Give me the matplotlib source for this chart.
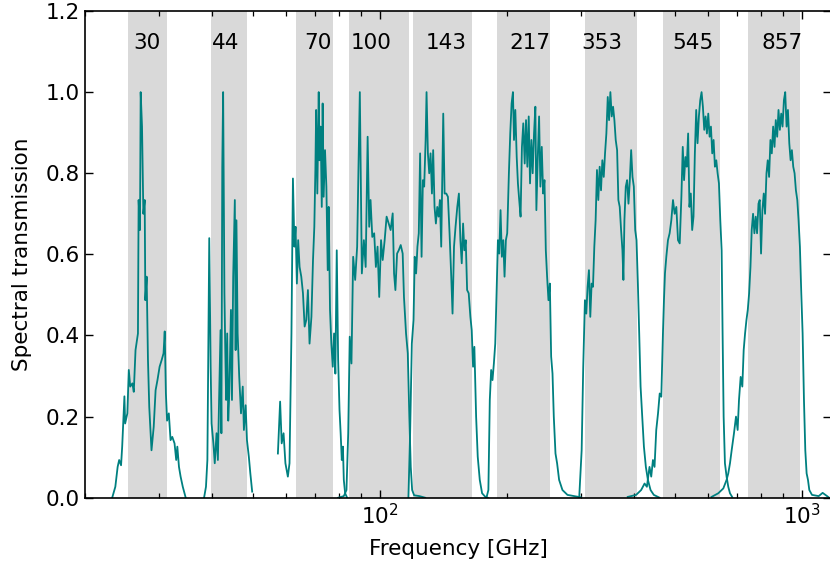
import matplotlib.pyplot as plt

# band edges (GHz) and label positions
band_names = ["30", "44", "70", "100", "143", "217", "353", "545", "857"]
band_lo = [25.3, 39.75, 63.2, 84.4, 119.7, 189.5, 306.3, 469.0, 746.3]
band_hi = [31.25, 48.4, 77.35, 117.2, 165.3, 253.0, 406.8, 640.4, 990.8]
label_x = [28.0, 43.1, 71.3, 95.2, 143.4, 226.8, 336.1, 552.3, 898.3]

freq_30 = [23.2, 23.6, 23.9, 24.1, 24.35, 24.5, 24.8, 24.9, 25.2, 25.4, 25.6, 25.9,
           26.1, 26.35, 26.7, 26.8, 27.0, 27.1, 27.3, 27.5, 27.7, 27.8, 28.0, 28.2,
           28.4, 28.75, 29.1, 29.4, 29.7, 30.05, 30.4, 30.7, 30.9, 31.1, 31.3, 31.6,
           31.9, 32.2, 32.6, 32.9, 33.1, 33.4, 33.7, 34.1, 34.65]
trans_30 = [0.0, 0.027, 0.076, 0.093, 0.08, 0.126, 0.25, 0.183, 0.208, 0.315, 0.274, 0.282,
            0.261, 0.364, 0.405, 0.734, 0.66, 1.0, 0.915, 0.70, 0.734, 0.487, 0.545, 0.34,
            0.224, 0.117, 0.175, 0.265, 0.29, 0.323, 0.34, 0.356, 0.41, 0.257, 0.19, 0.208,
            0.142, 0.15, 0.134, 0.093, 0.126, 0.076, 0.052, 0.027, 0.0]

freq_44 = [38.3, 38.7, 39.0, 39.4, 39.7, 39.9, 40.3, 40.6, 41.0, 41.3, 41.6, 41.9,
           42.1, 42.3, 42.5, 42.8, 43.0, 43.2, 43.45, 43.7, 43.95, 44.35, 44.6, 44.9,
           45.3, 45.5, 45.7, 46.0, 46.4, 46.85, 47.3, 47.6, 48.05, 48.4, 48.9, 49.3, 49.8]
trans_44 = [0.0, 0.027, 0.093, 0.64, 0.323, 0.183, 0.134, 0.085, 0.159, 0.093, 0.257, 0.413,
            0.159, 0.816, 1.0, 0.504, 0.364, 0.241, 0.405, 0.19, 0.257, 0.463, 0.241, 0.545,
            0.734, 0.364, 0.684, 0.405, 0.298, 0.208, 0.274, 0.167, 0.228, 0.142, 0.101, 0.06, 0.015]

freq_70 = [57.3, 58.0, 58.5, 59.1, 59.7, 60.5, 61.05, 61.7, 62.2, 62.7, 63.1, 63.55,
           64.0, 64.5, 65.1, 65.7, 66.3, 66.9, 67.5, 68.1, 68.8, 69.4, 69.9, 70.3,
           70.6, 71.05, 71.6, 71.9, 72.35, 72.8, 73.15, 73.55, 74.1, 74.65, 75.2, 75.6,
           76.15, 76.7, 77.3, 77.85, 78.4, 79.0, 79.6, 80.2, 80.7, 81.2, 81.7, 82.1, 82.7, 83.6]
trans_70 = [0.109, 0.237, 0.134, 0.159, 0.085, 0.052, 0.085, 0.405, 0.787, 0.619, 0.668, 0.528,
            0.635, 0.569, 0.545, 0.504, 0.422, 0.438, 0.512, 0.38, 0.446, 0.586, 0.668, 0.808,
            0.956, 0.75, 1.0, 0.832, 0.915, 0.717, 0.972, 0.742, 0.857, 0.767, 0.561, 0.717,
            0.463, 0.38, 0.323, 0.405, 0.306, 0.61, 0.34, 0.216, 0.159, 0.093, 0.126, 0.044, 0.011, 0.0]

freq_100 = [79.6, 82.1, 83.3, 84.1, 84.8, 85.6, 86.4, 87.35, 88.3, 88.95, 89.6, 90.6,
            91.6, 92.5, 93.5, 94.3, 95.0, 95.9, 96.9, 97.8, 98.7, 99.6, 100.6, 101.5,
            102.6, 103.7, 104.9, 106.0, 107.2, 108.0, 108.8, 109.8, 110.8, 112.0, 113.2,
            114.0, 115.3, 116.4, 117.4, 118.3, 119.2, 120.5, 124.0, 128.0]
trans_100 = [0.0, 0.004, 0.019, 0.159, 0.397, 0.331, 0.594, 0.537, 0.619, 0.816, 1.0, 0.553,
             0.635, 0.569, 0.89, 0.668, 0.734, 0.643, 0.652, 0.569, 0.619, 0.495, 0.635, 0.586,
             0.635, 0.693, 0.676, 0.66, 0.701, 0.553, 0.512, 0.602, 0.61, 0.623, 0.602,
             0.495, 0.405, 0.356, 0.2, 0.076, 0.019, 0.006, 0.004, 0.0]

freq_143 = [116.8, 117.9, 119.0, 120.1, 120.9, 121.8, 122.7, 123.6, 124.5, 125.5, 126.4, 127.3,
            128.3, 128.95, 129.9, 130.85, 131.8, 132.8, 133.7, 134.7, 135.7, 136.7, 137.7, 138.7,
            139.7, 141.25, 142.3, 143.6, 144.9, 146.2, 147.55, 148.6, 149.8, 151.05, 152.5, 153.85,
            155.1, 156.25, 157.4, 158.5, 159.7, 160.9, 162.3, 163.8, 165.0, 166.2, 167.4, 169.0,
            170.5, 172.4, 174.6, 177.8, 180.0]
trans_143 = [0.0, 0.159, 0.38, 0.438, 0.594, 0.553, 0.619, 0.652, 0.849, 0.594, 0.783, 0.767,
             0.882, 1.0, 0.849, 0.8, 0.849, 0.75, 0.857, 0.717, 0.676, 0.717, 0.693, 0.734,
             0.619, 0.947, 0.75, 0.75, 0.742, 0.652, 0.545, 0.454, 0.619, 0.668, 0.717, 0.75,
             0.635, 0.578, 0.676, 0.61, 0.635, 0.512, 0.504, 0.446, 0.413, 0.323, 0.372, 0.2,
             0.101, 0.044, 0.011, 0.002, 0.0]

freq_217 = [178.8, 180.7, 182.1, 183.45, 184.8, 186.2, 187.6, 188.95, 190.35, 191.7, 193.1, 194.5,
            196.0, 197.35, 198.8, 200.25, 202.1, 203.6, 205.1, 206.6, 207.8, 209.3, 210.9, 212.3,
            213.8, 215.4, 217.0, 218.6, 220.3, 221.9, 223.5, 225.2, 226.8, 228.5, 230.1, 231.8,
            233.5, 234.8, 236.6, 238.3, 240.0, 241.8, 243.6, 245.4, 247.2, 248.95, 250.8, 252.7,
            254.5, 256.4, 258.2, 260.6, 262.9, 265.8, 270.7, 278.2, 299.3]
trans_217 = [0.0, 0.019, 0.241, 0.315, 0.29, 0.331, 0.38, 0.504, 0.635, 0.602, 0.709, 0.594,
             0.635, 0.545, 0.635, 0.652, 0.8, 0.898, 0.972, 1.0, 0.882, 0.956, 0.84, 0.775,
             0.734, 0.693, 0.865, 0.923, 0.824, 0.931, 0.816, 0.94, 0.775, 0.882, 0.8, 0.898,
             0.964, 0.709, 0.84, 0.94, 0.767, 0.865, 0.75, 0.783, 0.61, 0.545, 0.487, 0.528,
             0.348, 0.306, 0.2, 0.109, 0.085, 0.044, 0.019, 0.007, 0.001]

freq_353 = [296.6, 300.6, 303.2, 306.0, 308.3, 310.5, 312.8, 315.1, 317.4, 319.75, 322.1, 324.4,
            326.8, 329.2, 331.65, 334.1, 336.5, 339.1, 341.5, 344.0, 346.6, 349.1, 351.6, 354.2,
            356.8, 359.4, 362.0, 364.75, 367.3, 370.0, 372.75, 375.5, 377.5, 379.6, 382.4, 385.2,
            388.1, 390.95, 393.8, 396.7, 399.6, 402.6, 405.5, 408.5, 411.5, 414.6, 418.35, 422.2,
            426.7, 431.5, 437.8, 445.6, 460.0]
trans_353 = [0.0, 0.117, 0.323, 0.487, 0.454, 0.52, 0.561, 0.446, 0.528, 0.52, 0.619, 0.684,
             0.808, 0.734, 0.816, 0.758, 0.832, 0.791, 0.849, 0.898, 0.988, 0.931, 1.0, 0.94,
             0.964, 0.931, 0.882, 0.857, 0.734, 0.717, 0.66, 0.61, 0.537, 0.684, 0.767, 0.783,
             0.725, 0.783, 0.857, 0.791, 0.767, 0.66, 0.635, 0.528, 0.405, 0.274, 0.2, 0.126,
             0.076, 0.044, 0.019, 0.007, 0.0]

freq_545 = [386.6, 404.6, 415.9, 423.7, 429.1, 435.3, 439.4, 443.5, 447.4, 451.6, 456.0, 460.2,
            464.2, 468.4, 471.0, 473.6, 477.1, 481.4, 485.8, 490.3, 494.8, 499.3, 503.9, 508.5,
            513.3, 518.0, 521.9, 525.6, 529.5, 533.4, 537.4, 541.3, 545.3, 549.4, 553.4, 557.5,
            561.6, 565.7, 569.9, 574.1, 578.3, 582.5, 586.8, 591.1, 595.4, 599.8, 604.2, 608.6,
            613.0, 617.5, 622.0, 626.6, 631.2, 635.8, 640.5, 645.2, 648.6, 652.3, 656.9, 662.9,
            669.0, 675.3, 683.3]
trans_545 = [0.002, 0.007, 0.019, 0.035, 0.027, 0.076, 0.052, 0.093, 0.076, 0.167, 0.208, 0.257,
             0.249, 0.405, 0.487, 0.553, 0.594, 0.635, 0.652, 0.684, 0.734, 0.70, 0.717, 0.635,
             0.627, 0.742, 0.865, 0.783, 0.84, 0.816, 0.898, 0.717, 0.75, 0.66, 0.693, 0.849,
             0.956, 0.874, 0.94, 0.98, 1.0, 0.964, 0.907, 0.94, 0.898, 0.947, 0.89, 0.915,
             0.849, 0.882, 0.816, 0.832, 0.8, 0.775, 0.684, 0.61, 0.405, 0.2, 0.085, 0.052,
             0.027, 0.011, 0.002]

freq_857 = [610.7, 633.5, 651.2, 662.9, 669.0, 675.3, 681.5, 690.2, 697.8, 704.1, 709.3, 715.8,
            722.3, 727.7, 733.2, 738.7, 744.1, 749.6, 755.1, 760.3, 765.9, 771.5, 777.1, 782.8,
            788.9, 794.3, 800.0, 805.9, 811.9, 817.7, 824.1, 829.8, 835.9, 842.1, 848.3, 854.6,
            861.0, 867.0, 873.6, 880.0, 886.5, 893.1, 899.6, 906.3, 912.8, 919.6, 926.4, 933.3,
            940.0, 946.6, 953.7, 960.6, 967.6, 975.0, 981.8, 989.0, 996.4, 1003.7, 1011.1, 1018.5,
            1025.9, 1033.5, 1041.1, 1056.4, 1095.8, 1119.5, 1147.0, 1160.0]
trans_857 = [0.002, 0.011, 0.023, 0.044, 0.06, 0.085, 0.117, 0.159, 0.2, 0.167, 0.241, 0.298,
             0.274, 0.364, 0.405, 0.438, 0.463, 0.504, 0.569, 0.66, 0.70, 0.652, 0.693, 0.652,
             0.725, 0.734, 0.602, 0.709, 0.75, 0.70, 0.8, 0.832, 0.791, 0.882, 0.849, 0.915,
             0.865, 0.931, 0.89, 0.956, 0.907, 0.947, 0.915, 0.98, 1.0, 0.915, 0.956, 0.874,
             0.832, 0.857, 0.816, 0.8, 0.758, 0.734, 0.684, 0.619, 0.504, 0.405, 0.241, 0.117,
             0.06, 0.044, 0.019, 0.007, 0.004, 0.012, 0.004, 0.0]

curves = [(freq_30, trans_30), (freq_44, trans_44), (freq_70, trans_70),
          (freq_100, trans_100), (freq_143, trans_143), (freq_217, trans_217),
          (freq_353, trans_353), (freq_545, trans_545), (freq_857, trans_857)]

plt.rcParams["font.size"] = 15.5

fig = plt.figure(figsize=(8.3, 5.64), dpi=100)
ax = fig.add_axes([0.1024, 0.1175, 0.8994, 0.863])

for lo, hi, name, lx in zip(band_lo, band_hi, band_names, label_x):
    ax.axvspan(lo, hi, color="#d9d9d9", lw=0, zorder=0)
    ax.text(lx, 1.12, name, ha="center", va="center")

for f, t in curves:
    ax.plot(f, t, color="teal", lw=1.3)

ax.set_xscale("log")
ax.set_xlim(20, 1175)
ax.set_ylim(0, 1.2)
ax.set_xlabel("Frequency [GHz]", labelpad=8)
ax.set_ylabel("Spectral transmission", labelpad=10)

ax.tick_params(which="both", direction="in", top=True, right=True)
ax.tick_params(which="major", length=6, width=1)
ax.tick_params(which="minor", length=3.5, width=0.9)
for s in ax.spines.values():
    s.set_linewidth(1.2)

fig.savefig("out.png", dpi=100)
plt.close()
